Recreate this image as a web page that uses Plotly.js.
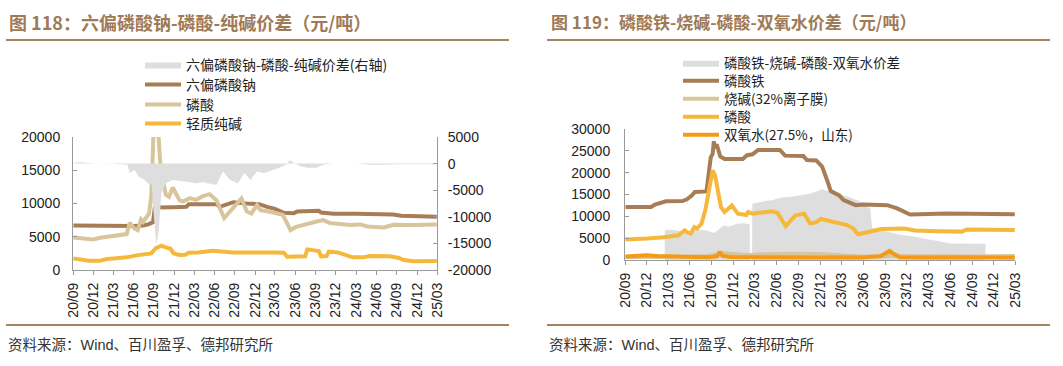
<!DOCTYPE html>
<html>
<head>
<meta charset="utf-8">
<script src="https://cdn.plot.ly/plotly-3.0.1.min.js"></script>
<style>
html,body{margin:0;padding:0;background:#fff;}
#chart{width:1063px;height:366px;}
</style>
</head>
<body>
<div id="chart"></div>
<script>
// ---------- DATA ----------
const tickLabels = ['20/09','20/12','21/03','21/06','21/09','21/12','22/03','22/06','22/09','22/12','23/03','23/06','23/09','23/12','24/03','24/06','24/09','24/12','25/03'];
const yLeftTicks1 = [0,5000,10000,15000,20000];
const yRightTicks1 = [-20000,-15000,-10000,-5000,0,5000];
const yTicks2 = [0,5000,10000,15000,20000,25000,30000];

// Chart 118
const spread1Dates = ['2020-09-03','2020-10-10','2020-11-15','2020-12-15','2021-02-01','2021-04-01','2021-05-05','2021-05-15','2021-06-05','2021-06-25','2021-07-20','2021-08-05','2021-08-22','2021-08-30','2021-09-12','2021-09-22','2021-10-05','2021-10-25','2021-11-25','2022-01-25','2022-03-10','2022-04-10','2022-06-10','2022-07-10','2022-08-10','2022-09-15','2022-10-15','2022-11-10','2022-12-10','2023-01-10','2023-02-10','2023-03-20','2023-04-20','2023-05-07','2023-05-25','2023-06-25','2023-07-25','2023-09-05','2023-10-05','2023-11-15','2024-03-01','2024-05-01','2024-07-01','2024-09-01','2024-12-01','2025-02-28'];
const spread1Vals = [150,250,100,0,50,-50,-200,-1750,-1200,-2450,-3100,-3700,-4000,-9000,-15300,-13000,-5500,-3700,-3100,-3400,-3700,-3500,-4000,-1450,-3100,-3700,-1750,-3100,-1500,-1800,-1400,-800,-200,700,100,-500,-800,-800,-200,0,0,-200,-200,-100,-100,-100];

const hmpDates = ['2020-09-03','2020-12-01','2021-03-01','2021-06-01','2021-07-15','2021-08-10','2021-08-28','2021-09-05','2021-12-01','2022-01-25','2022-02-05','2022-06-10','2022-06-25','2022-07-20','2022-08-25','2022-10-25','2022-12-20','2023-01-25','2023-03-01','2023-04-10','2023-05-25','2023-06-10','2023-07-20','2023-09-15','2023-09-25','2023-11-20','2024-03-01','2024-06-01','2024-08-15','2024-09-20','2024-11-15','2025-02-28'];
const hmpVals = [6700,6650,6600,6600,6700,6900,7200,9400,9450,9500,9900,9900,9500,9800,10200,10000,9900,9500,9200,8600,8550,8800,8900,8900,8650,8450,8450,8400,8350,8150,8050,8000];

const pa1Dates = ['2020-09-03','2020-10-20','2020-12-01','2021-01-01','2021-02-15','2021-04-01','2021-05-01','2021-05-15','2021-06-05','2021-06-20','2021-07-05','2021-07-15','2021-08-10','2021-08-20','2021-08-28','2021-09-05','2021-09-18','2021-10-01','2021-10-12','2021-10-25','2021-11-08','2021-11-25','2021-12-25','2022-01-10','2022-02-10','2022-03-10','2022-04-10','2022-05-10','2022-06-10','2022-07-15','2022-08-10','2022-09-10','2022-10-01','2022-10-25','2022-11-15','2022-12-10','2022-12-25','2023-02-05','2023-04-05','2023-04-25','2023-05-10','2023-06-05','2023-07-05','2023-09-05','2023-10-05','2023-11-05','2024-02-05','2024-03-20','2024-04-20','2024-07-05','2024-08-15','2024-11-15','2025-02-28'];
const pa1Vals = [4900,4750,4600,4850,5050,5300,5400,7100,6250,6000,7600,7250,8500,11000,19000,26000,22000,15500,13500,11300,11000,12400,10500,10300,10800,10550,11100,11400,10500,7800,8800,10100,10750,8800,8500,9750,9000,8750,8300,7000,6000,6500,6800,7300,7500,7050,6750,6850,6550,6400,6800,6750,6850];

const soda1Dates = ['2020-09-03','2020-10-15','2020-11-10','2021-01-01','2021-02-01','2021-03-15','2021-05-01','2021-06-15','2021-07-25','2021-08-20','2021-09-10','2021-10-05','2021-10-25','2021-11-15','2021-11-28','2021-12-25','2022-01-20','2022-02-05','2022-03-20','2022-05-25','2022-07-15','2022-08-25','2023-03-01','2023-04-10','2023-04-25','2023-07-15','2023-07-25','2023-09-05','2023-09-15','2023-09-25','2023-10-20','2023-10-30','2023-12-10','2024-01-15','2024-02-15','2024-04-01','2024-05-01','2024-08-01','2024-09-10','2024-10-01','2024-11-15','2025-02-28'];
const soda1Vals = [1750,1500,1380,1400,1650,1750,1900,2200,2400,2500,3300,3650,3400,3200,2500,2250,2300,2600,2650,2900,2750,2650,2650,2600,2000,2050,3100,3000,2850,2050,2100,2750,2650,2250,1900,1900,2100,2050,1800,1500,1300,1350];

// Chart 119
const spread2Dates = ['2021-02-15','2021-03-15','2021-04-15','2021-05-15','2021-06-15','2021-07-15','2021-08-15','2021-09-10','2021-10-01','2021-10-20','2021-11-15','2021-12-15','2022-01-15','2022-02-08','2022-02-09','2022-02-18','2022-02-19','2022-03-15','2022-04-15','2022-05-15','2022-06-20','2022-08-01','2022-09-10','2022-10-20','2022-12-10','2022-12-25','2023-01-20','2023-02-15','2023-04-01','2023-05-15','2023-07-01','2023-07-08','2023-08-15','2023-09-20','2023-11-01','2024-01-01','2024-03-01','2024-05-01','2024-06-01','2024-10-28'];
const spread2Vals = [6800,6900,6700,6500,6600,6900,6700,6200,7000,7900,7700,8300,8400,8200,0,0,12900,13200,13500,13700,14300,14500,14900,15200,16200,15900,15600,15200,14400,13500,11800,7300,6800,6500,5800,5400,4700,4200,3800,3700];

const ifpDates = ['2020-09-03','2020-12-20','2021-01-05','2021-02-10','2021-02-20','2021-05-01','2021-05-20','2021-06-10','2021-06-22','2021-08-10','2021-08-20','2021-08-28','2021-09-05','2021-09-10','2021-09-15','2021-09-22','2021-10-07','2021-10-25','2022-01-10','2022-01-28','2022-02-20','2022-03-15','2022-06-15','2022-07-07','2022-09-22','2022-10-07','2022-11-15','2022-12-10','2023-01-05','2023-01-15','2023-02-20','2023-03-10','2023-05-01','2023-06-01','2023-09-10','2023-10-22','2023-12-15','2024-05-18','2025-02-28'];
const ifpVals = [12150,12150,12700,13150,13450,13500,13900,14800,15600,15700,20000,23500,24300,27200,25600,26500,23700,23150,23150,24000,24200,25200,25200,23900,23800,22900,22800,21400,17500,15800,14800,13700,12550,12700,12550,11800,10400,10650,10500];

const naohDates = ['2020-09-03','2020-12-01','2021-03-01','2021-06-01','2021-08-15','2021-09-20','2021-10-10','2021-11-01','2021-12-15','2022-02-01','2022-04-01','2022-07-01','2022-10-01','2022-12-15','2023-02-15','2023-05-01','2023-08-01','2023-10-01','2023-12-01','2024-03-01','2024-06-01','2024-09-01','2024-12-01','2025-02-28'];
const naohVals = [700,650,700,750,900,1200,1600,1500,1200,1100,1300,1450,1450,1300,1050,850,800,1000,900,800,850,800,850,900];

const pa2Dates = ['2020-09-03','2020-11-01','2020-12-01','2021-02-10','2021-04-15','2021-05-10','2021-05-22','2021-06-05','2021-06-20','2021-07-01','2021-07-20','2021-08-05','2021-08-20','2021-09-05','2021-09-15','2021-09-28','2021-10-10','2021-10-25','2021-11-25','2021-12-20','2022-01-25','2022-02-01','2022-02-20','2022-03-20','2022-05-15','2022-06-05','2022-07-10','2022-08-20','2022-09-25','2022-10-20','2022-11-15','2022-12-05','2023-01-15','2023-03-25','2023-04-20','2023-05-10','2023-06-05','2023-08-15','2023-11-20','2024-01-05','2024-04-10','2024-07-20','2024-08-10','2025-02-28'];
const pa2Vals = [4700,4750,4900,5200,5650,6800,6300,6100,7500,7200,8300,11400,15500,20500,19400,15500,12100,11000,12500,10600,10300,11000,10600,10800,11150,10800,7750,10250,10600,8400,8600,9400,8900,8000,7200,5900,6200,7100,7200,6750,6600,6500,7000,6850];

const h2o2Dates = ['2020-09-03','2020-10-15','2020-12-01','2021-01-15','2021-03-01','2021-05-01','2021-07-01','2021-08-25','2021-09-25','2021-10-05','2021-10-15','2021-11-15','2022-02-01','2022-06-01','2022-09-01','2022-12-01','2023-03-01','2023-06-01','2023-08-15','2023-09-20','2023-10-10','2023-11-01','2024-02-01','2024-05-01','2024-08-01','2024-11-01','2025-02-28'];
const h2o2Vals = [800,1000,1100,900,800,750,700,650,900,1900,1000,700,650,600,650,550,650,600,900,2100,1300,650,600,700,650,550,500];

// ---------- STYLE / LAYOUT ----------
const W = 1063, H = 366;
const px = x => x / W;
const py = y => 1 - y / H;
const tickDates = tickLabels.map(t => '20' + t.slice(0,2) + '-' + t.slice(3,5) + '-01');

const C = {brown:'#A87D55', tan:'#D8C59C', yellow:'#F6B83A', orange:'#F49A16', gray:'#DEDEDE'};
const tickFont = {family:'"Liberation Sans", Arial, sans-serif', size:14, color:'#222'};
const legFont1 = {family:'"Noto Sans CJK SC", sans-serif', size:14, color:'#222'};
const legFont2 = {family:'"Noto Sans CJK SC", sans-serif', size:13.5, color:'#222'};

const traces = [
  {x:spread1Dates, y:spread1Vals, name:'六偏磷酸钠-磷酸-纯碱价差(右轴)', type:'scatter', mode:'lines', fill:'tozeroy', fillcolor:C.gray, line:{width:0, color:C.gray}, xaxis:'x', yaxis:'y2', legend:'legend'},
  {x:hmpDates, y:hmpVals, name:'六偏磷酸钠', type:'scatter', mode:'lines', line:{width:4, color:C.brown}, xaxis:'x', yaxis:'y', legend:'legend2'},
  {x:pa1Dates, y:pa1Vals, name:'磷酸', type:'scatter', mode:'lines', line:{width:4, color:C.tan}, xaxis:'x', yaxis:'y', legend:'legend3'},
  {x:soda1Dates, y:soda1Vals, name:'轻质纯碱', type:'scatter', mode:'lines', line:{width:4, color:C.yellow}, xaxis:'x', yaxis:'y', legend:'legend4'},

  {x:spread2Dates, y:spread2Vals, name:'磷酸铁-烧碱-磷酸-双氧水价差', type:'scatter', mode:'lines', fill:'tozeroy', fillcolor:C.gray, line:{width:0, color:C.gray}, xaxis:'x2', yaxis:'y3', legend:'legend5'},
  {x:ifpDates, y:ifpVals, name:'磷酸铁', type:'scatter', mode:'lines', line:{width:4, color:C.brown}, xaxis:'x2', yaxis:'y3', legend:'legend6'},
  {x:naohDates, y:naohVals, name:'烧碱(32%离子膜)', type:'scatter', mode:'lines', line:{width:4, color:C.tan}, xaxis:'x2', yaxis:'y3', legend:'legend7'},
  {x:pa2Dates, y:pa2Vals, name:'磷酸', type:'scatter', mode:'lines', line:{width:4, color:C.yellow}, xaxis:'x2', yaxis:'y3', legend:'legend8'},
  {x:h2o2Dates, y:h2o2Vals, name:'双氧水(27.5%，山东)', type:'scatter', mode:'lines', line:{width:4, color:C.orange}, xaxis:'x2', yaxis:'y3', legend:'legend9'}
];

const axCommon = {showgrid:false, zeroline:false, showline:true, linecolor:'#9a9a9a', linewidth:1, tickcolor:'#9a9a9a', tickfont:tickFont, fixedrange:true};

const xCommon = Object.assign({}, axCommon, {type:'date', range:['2020-09-01','2025-03-01'], tickmode:'array', tickvals:tickDates, ticktext:tickLabels, tickangle:-90, ticks:'outside', ticklen:4, ticklabelstandoff:2});

const yTickCfg = arr => ({tickmode:'array', tickvals:arr, ticktext:arr.map(v => String(v))});

const legCommon = {xanchor:'left', yanchor:'middle', bgcolor:'rgba(0,0,0,0)', itemwidth:36, tracegroupgap:0, traceorder:'normal', orientation:'v'};
// legend row centres (px) for each chart
const leg1X = 140, leg1Rows = [65, 85, 105, 124];
const leg2X = 678, leg2Rows = [63, 81, 99, 117, 135];
const mkLeg = (x, y, f) => Object.assign({}, legCommon, {x:px(x), y:py(y), font:f});

const ruleColor = '#A5835F';
const titleFont1 = {family:'"Noto Sans CJK SC", sans-serif', size:18, color:'#A07A56'};
const titleFont2 = {family:'"Noto Sans CJK SC", sans-serif', size:17, color:'#A07A56'};
const srcFont = {family:'"Liberation Sans", "Noto Sans CJK SC", sans-serif', size:14.5, color:'#333'};

const layout = {
  width:W, height:H, margin:{l:0,r:0,t:0,b:0},
  paper_bgcolor:'#fff', plot_bgcolor:'rgba(0,0,0,0)',
  showlegend:true,
  xaxis: Object.assign({}, xCommon, {domain:[px(73), px(437)], anchor:'y'}),
  yaxis: Object.assign({}, axCommon, yTickCfg(yLeftTicks1), {domain:[py(270), py(137)], range:[0,20000], ticks:'inside', ticklen:4, anchor:'x', ticklabelstandoff:9}),
  yaxis2: Object.assign({}, axCommon, yTickCfg(yRightTicks1), {overlaying:'y', side:'right', anchor:'x', range:[-20000,5000], ticks:'inside', ticklen:4, ticklabelstandoff:7}),
  xaxis2: Object.assign({}, xCommon, {domain:[px(625), px(1015)], anchor:'y3'}),
  yaxis3: Object.assign({}, axCommon, yTickCfg(yTicks2), {domain:[py(260), py(129)], range:[0,30000], ticks:'inside', ticklen:4, anchor:'x2', ticklabelstandoff:11}),
  legend: mkLeg(leg1X, leg1Rows[0], legFont1),
  legend2: mkLeg(leg1X, leg1Rows[1], legFont1),
  legend3: mkLeg(leg1X, leg1Rows[2], legFont1),
  legend4: mkLeg(leg1X, leg1Rows[3], legFont1),
  legend5: mkLeg(leg2X, leg2Rows[0], legFont2),
  legend6: mkLeg(leg2X, leg2Rows[1], legFont2),
  legend7: mkLeg(leg2X, leg2Rows[2], legFont2),
  legend8: mkLeg(leg2X, leg2Rows[3], legFont2),
  legend9: mkLeg(leg2X, leg2Rows[4], legFont2),
  shapes: [
    {type:'line', xref:'paper', yref:'paper', x0:px(6), x1:px(509), y0:py(40), y1:py(40), line:{color:ruleColor, width:2}},
    {type:'line', xref:'paper', yref:'paper', x0:px(547), x1:px(1050), y0:py(40), y1:py(40), line:{color:ruleColor, width:2}},
    {type:'line', xref:'paper', yref:'paper', x0:px(6), x1:px(509), y0:py(325), y1:py(325), line:{color:ruleColor, width:2}},
    {type:'line', xref:'paper', yref:'paper', x0:px(547), x1:px(1050), y0:py(325), y1:py(325), line:{color:ruleColor, width:2}}
  ],
  annotations: [
    {text:'<b>图 118：六偏磷酸钠-磷酸-纯碱价差（元/吨）</b>', xref:'paper', yref:'paper', x:px(7), y:py(22), xanchor:'left', yanchor:'middle', showarrow:false, font:titleFont1},
    {text:'<b>图 119：磷酸铁-烧碱-磷酸-双氧水价差（元/吨）</b>', xref:'paper', yref:'paper', x:px(549), y:py(22), xanchor:'left', yanchor:'middle', showarrow:false, font:titleFont2},
    {text:'资料来源：Wind、百川盈孚、德邦研究所', xref:'paper', yref:'paper', x:px(6), y:py(345), xanchor:'left', yanchor:'middle', showarrow:false, font:srcFont},
    {text:'资料来源：Wind、百川盈孚、德邦研究所', xref:'paper', yref:'paper', x:px(547), y:py(345), xanchor:'left', yanchor:'middle', showarrow:false, font:srcFont}
  ]
};

Plotly.newPlot('chart', traces, layout, {staticPlot:true, displayModeBar:false});
</script>
</body>
</html>
